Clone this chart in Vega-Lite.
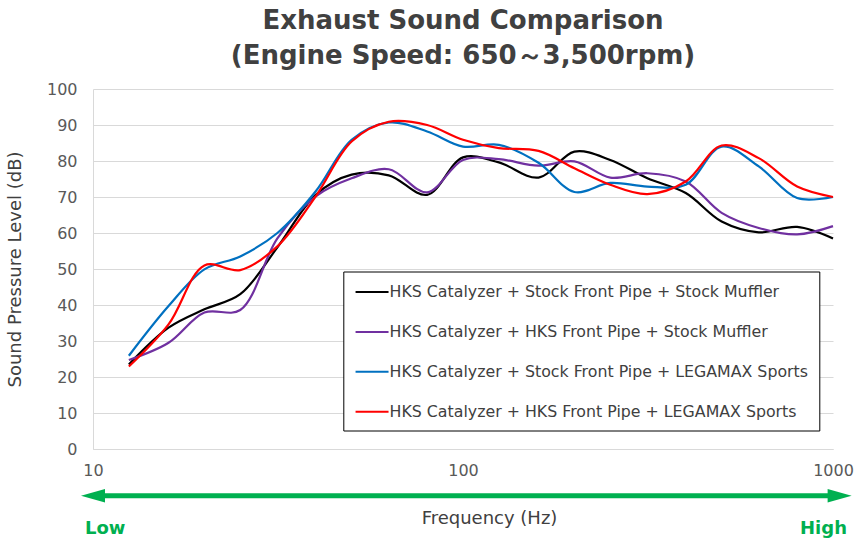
{
  "$schema": "https://vega.github.io/schema/vega-lite/v6.json",
  "width": 740,
  "height": 360,
  "autosize": {"type": "none"},
  "padding": {"left": 93, "top": 89, "right": 27, "bottom": 103},
  "background": "white",
  "title": {
    "text": ["Exhaust Sound Comparison", "(Engine Speed: 650～3,500rpm)"],
    "anchor": "middle",
    "frame": "group",
    "font": "DejaVu Sans",
    "fontSize": 26,
    "fontWeight": "bold",
    "color": "#404040",
    "lineHeight": 35,
    "baseline": "bottom",
    "offset": 22,
    "dy": 36
  },
  "config": {
    "view": {"stroke": null},
    "font": "DejaVu Sans"
  },
  "datasets": {
    "spl": [
      {"f": 12.5, "series": "HKS Catalyzer + Stock Front Pipe + Stock Muffler", "db": 23.5},
      {"f": 16, "series": "HKS Catalyzer + Stock Front Pipe + Stock Muffler", "db": 33.7},
      {"f": 20, "series": "HKS Catalyzer + Stock Front Pipe + Stock Muffler", "db": 38.8},
      {"f": 25, "series": "HKS Catalyzer + Stock Front Pipe + Stock Muffler", "db": 43},
      {"f": 31.5, "series": "HKS Catalyzer + Stock Front Pipe + Stock Muffler", "db": 56},
      {"f": 40, "series": "HKS Catalyzer + Stock Front Pipe + Stock Muffler", "db": 70.6},
      {"f": 50, "series": "HKS Catalyzer + Stock Front Pipe + Stock Muffler", "db": 76.2},
      {"f": 63, "series": "HKS Catalyzer + Stock Front Pipe + Stock Muffler", "db": 76},
      {"f": 80, "series": "HKS Catalyzer + Stock Front Pipe + Stock Muffler", "db": 70.6},
      {"f": 100, "series": "HKS Catalyzer + Stock Front Pipe + Stock Muffler", "db": 81},
      {"f": 125, "series": "HKS Catalyzer + Stock Front Pipe + Stock Muffler", "db": 79.6},
      {"f": 160, "series": "HKS Catalyzer + Stock Front Pipe + Stock Muffler", "db": 75.4},
      {"f": 200, "series": "HKS Catalyzer + Stock Front Pipe + Stock Muffler", "db": 82.6},
      {"f": 250, "series": "HKS Catalyzer + Stock Front Pipe + Stock Muffler", "db": 80.3},
      {"f": 315, "series": "HKS Catalyzer + Stock Front Pipe + Stock Muffler", "db": 75.2},
      {"f": 400, "series": "HKS Catalyzer + Stock Front Pipe + Stock Muffler", "db": 71.1},
      {"f": 500, "series": "HKS Catalyzer + Stock Front Pipe + Stock Muffler", "db": 63.2},
      {"f": 630, "series": "HKS Catalyzer + Stock Front Pipe + Stock Muffler", "db": 60.2},
      {"f": 800, "series": "HKS Catalyzer + Stock Front Pipe + Stock Muffler", "db": 61.7},
      {"f": 1000, "series": "HKS Catalyzer + Stock Front Pipe + Stock Muffler", "db": 58.5},
      {"f": 12.5, "series": "HKS Catalyzer + HKS Front Pipe + Stock Muffler", "db": 24.7},
      {"f": 16, "series": "HKS Catalyzer + HKS Front Pipe + Stock Muffler", "db": 29.5},
      {"f": 20, "series": "HKS Catalyzer + HKS Front Pipe + Stock Muffler", "db": 37.9},
      {"f": 25, "series": "HKS Catalyzer + HKS Front Pipe + Stock Muffler", "db": 38.6},
      {"f": 31.5, "series": "HKS Catalyzer + HKS Front Pipe + Stock Muffler", "db": 58.5},
      {"f": 40, "series": "HKS Catalyzer + HKS Front Pipe + Stock Muffler", "db": 70.2},
      {"f": 50, "series": "HKS Catalyzer + HKS Front Pipe + Stock Muffler", "db": 75.2},
      {"f": 63, "series": "HKS Catalyzer + HKS Front Pipe + Stock Muffler", "db": 77.7},
      {"f": 80, "series": "HKS Catalyzer + HKS Front Pipe + Stock Muffler", "db": 71.3},
      {"f": 100, "series": "HKS Catalyzer + HKS Front Pipe + Stock Muffler", "db": 80.3},
      {"f": 125, "series": "HKS Catalyzer + HKS Front Pipe + Stock Muffler", "db": 80.5},
      {"f": 160, "series": "HKS Catalyzer + HKS Front Pipe + Stock Muffler", "db": 78.7},
      {"f": 200, "series": "HKS Catalyzer + HKS Front Pipe + Stock Muffler", "db": 79.9},
      {"f": 250, "series": "HKS Catalyzer + HKS Front Pipe + Stock Muffler", "db": 75.4},
      {"f": 315, "series": "HKS Catalyzer + HKS Front Pipe + Stock Muffler", "db": 76.6},
      {"f": 400, "series": "HKS Catalyzer + HKS Front Pipe + Stock Muffler", "db": 74.3},
      {"f": 500, "series": "HKS Catalyzer + HKS Front Pipe + Stock Muffler", "db": 65.6},
      {"f": 630, "series": "HKS Catalyzer + HKS Front Pipe + Stock Muffler", "db": 61.4},
      {"f": 800, "series": "HKS Catalyzer + HKS Front Pipe + Stock Muffler", "db": 59.6},
      {"f": 1000, "series": "HKS Catalyzer + HKS Front Pipe + Stock Muffler", "db": 61.9},
      {"f": 12.5, "series": "HKS Catalyzer + Stock Front Pipe + LEGAMAX Sports", "db": 25.9},
      {"f": 16, "series": "HKS Catalyzer + Stock Front Pipe + LEGAMAX Sports", "db": 39.7},
      {"f": 20, "series": "HKS Catalyzer + Stock Front Pipe + LEGAMAX Sports", "db": 49.9},
      {"f": 25, "series": "HKS Catalyzer + Stock Front Pipe + LEGAMAX Sports", "db": 53.5},
      {"f": 31.5, "series": "HKS Catalyzer + Stock Front Pipe + LEGAMAX Sports", "db": 60},
      {"f": 40, "series": "HKS Catalyzer + Stock Front Pipe + LEGAMAX Sports", "db": 71.6},
      {"f": 50, "series": "HKS Catalyzer + Stock Front Pipe + LEGAMAX Sports", "db": 85.9},
      {"f": 63, "series": "HKS Catalyzer + Stock Front Pipe + LEGAMAX Sports", "db": 90.7},
      {"f": 80, "series": "HKS Catalyzer + Stock Front Pipe + LEGAMAX Sports", "db": 88.2},
      {"f": 100, "series": "HKS Catalyzer + Stock Front Pipe + LEGAMAX Sports", "db": 84},
      {"f": 125, "series": "HKS Catalyzer + Stock Front Pipe + LEGAMAX Sports", "db": 84.5},
      {"f": 160, "series": "HKS Catalyzer + Stock Front Pipe + LEGAMAX Sports", "db": 79.5},
      {"f": 200, "series": "HKS Catalyzer + Stock Front Pipe + LEGAMAX Sports", "db": 71.4},
      {"f": 250, "series": "HKS Catalyzer + Stock Front Pipe + LEGAMAX Sports", "db": 73.9},
      {"f": 315, "series": "HKS Catalyzer + Stock Front Pipe + LEGAMAX Sports", "db": 72.9},
      {"f": 400, "series": "HKS Catalyzer + Stock Front Pipe + LEGAMAX Sports", "db": 73.4},
      {"f": 500, "series": "HKS Catalyzer + Stock Front Pipe + LEGAMAX Sports", "db": 84},
      {"f": 630, "series": "HKS Catalyzer + Stock Front Pipe + LEGAMAX Sports", "db": 78.5},
      {"f": 800, "series": "HKS Catalyzer + Stock Front Pipe + LEGAMAX Sports", "db": 69.7},
      {"f": 1000, "series": "HKS Catalyzer + Stock Front Pipe + LEGAMAX Sports", "db": 70},
      {"f": 12.5, "series": "HKS Catalyzer + HKS Front Pipe + LEGAMAX Sports", "db": 22.9},
      {"f": 16, "series": "HKS Catalyzer + HKS Front Pipe + LEGAMAX Sports", "db": 34.6},
      {"f": 20, "series": "HKS Catalyzer + HKS Front Pipe + LEGAMAX Sports", "db": 51},
      {"f": 25, "series": "HKS Catalyzer + HKS Front Pipe + LEGAMAX Sports", "db": 49.7},
      {"f": 31.5, "series": "HKS Catalyzer + HKS Front Pipe + LEGAMAX Sports", "db": 56.3},
      {"f": 40, "series": "HKS Catalyzer + HKS Front Pipe + LEGAMAX Sports", "db": 70.2},
      {"f": 50, "series": "HKS Catalyzer + HKS Front Pipe + LEGAMAX Sports", "db": 85.4},
      {"f": 63, "series": "HKS Catalyzer + HKS Front Pipe + LEGAMAX Sports", "db": 90.9},
      {"f": 80, "series": "HKS Catalyzer + HKS Front Pipe + LEGAMAX Sports", "db": 90},
      {"f": 100, "series": "HKS Catalyzer + HKS Front Pipe + LEGAMAX Sports", "db": 85.9},
      {"f": 125, "series": "HKS Catalyzer + HKS Front Pipe + LEGAMAX Sports", "db": 83.6},
      {"f": 160, "series": "HKS Catalyzer + HKS Front Pipe + LEGAMAX Sports", "db": 82.8},
      {"f": 200, "series": "HKS Catalyzer + HKS Front Pipe + LEGAMAX Sports", "db": 78},
      {"f": 250, "series": "HKS Catalyzer + HKS Front Pipe + LEGAMAX Sports", "db": 73.4},
      {"f": 315, "series": "HKS Catalyzer + HKS Front Pipe + LEGAMAX Sports", "db": 70.8},
      {"f": 400, "series": "HKS Catalyzer + HKS Front Pipe + LEGAMAX Sports", "db": 74.3},
      {"f": 500, "series": "HKS Catalyzer + HKS Front Pipe + LEGAMAX Sports", "db": 84.3},
      {"f": 630, "series": "HKS Catalyzer + HKS Front Pipe + LEGAMAX Sports", "db": 80.8},
      {"f": 800, "series": "HKS Catalyzer + HKS Front Pipe + LEGAMAX Sports", "db": 72.9},
      {"f": 1000, "series": "HKS Catalyzer + HKS Front Pipe + LEGAMAX Sports", "db": 70}
    ],
    "one": [{"note": "annotation"}]
  },
  "encoding": {
    "x": {
      "type": "quantitative",
      "scale": {"type": "log", "domain": [10, 1000], "nice": false},
      "axis": {
        "values": [10, 100, 1000],
        "format": "d",
        "grid": false,
        "ticks": false,
        "tickSize": 0,
        "domainColor": "#d9d9d9",
        "labelFont": "DejaVu Sans",
        "labelFontSize": 16,
        "labelColor": "#595959",
        "labelPadding": 13,
        "labelFlush": false,
        "title": "Frequency (Hz)",
        "titleFont": "DejaVu Sans",
        "titleFontSize": 18,
        "titleFontWeight": "normal",
        "titleColor": "#404040",
        "titleX": 396,
        "titleY": 69,
        "titleBaseline": "middle",
        "titleAlign": "center"
      }
    },
    "y": {
      "type": "quantitative",
      "scale": {"domain": [0, 100], "nice": false},
      "axis": {
        "values": [0, 10, 20, 30, 40, 50, 60, 70, 80, 90, 100],
        "grid": true,
        "gridColor": "#d9d9d9",
        "gridWidth": 1,
        "ticks": false,
        "tickSize": 0,
        "domainColor": "#d9d9d9",
        "labelFont": "DejaVu Sans",
        "labelFontSize": 16,
        "labelColor": "#595959",
        "labelPadding": 16,
        "title": "Sound Pressure Level (dB)",
        "titleFont": "DejaVu Sans",
        "titleFontSize": 18,
        "titleFontWeight": "normal",
        "titleColor": "#404040",
        "titleAngle": -90,
        "titleX": -78,
        "titleY": 180,
        "titleBaseline": "middle",
        "titleAlign": "center"
      }
    }
  },
  "layer": [
    {
      "data": {"name": "spl"},
      "mark": {"type": "line", "interpolate": "catmull-rom", "strokeWidth": 2.2},
      "encoding": {
        "x": {"field": "f"},
        "y": {"field": "db"},
        "color": {
          "field": "series",
          "type": "nominal",
          "scale": {
            "domain": [
              "HKS Catalyzer + Stock Front Pipe + Stock Muffler",
              "HKS Catalyzer + HKS Front Pipe + Stock Muffler",
              "HKS Catalyzer + Stock Front Pipe + LEGAMAX Sports",
              "HKS Catalyzer + HKS Front Pipe + LEGAMAX Sports"
            ],
            "range": ["#000000", "#7030a0", "#0070c0", "#ff0000"]
          },
          "legend": {
            "title": null,
            "orient": "none",
            "legendX": 250.3,
            "legendY": 182.5,
            "direction": "vertical",
            "fillColor": "white",
            "strokeColor": "#000000",
            "padding": 11,
            "symbolType": "M-2,0L2,0",
            "symbolSize": 272,
            "symbolStrokeWidth": 2,
            "symbolFillColor": "transparent",
            "symbolOffset": 8.25,
            "labelOffset": 8,
            "rowPadding": 21.9,
            "labelFont": "DejaVu Sans",
            "labelFontSize": 15.8,
            "labelColor": "#404040",
            "labelLimit": 600
          }
        },
        "order": {"field": "f", "type": "quantitative"}
      }
    },
    {
      "data": {"name": "one"},
      "mark": {"type": "rule", "color": "#00b050", "strokeWidth": 5},
      "encoding": {
        "x": {"datum": 10},
        "x2": {"datum": 1042},
        "y": {"datum": -13}
      }
    },
    {
      "data": {"name": "one"},
      "mark": {"type": "point", "shape": "M-1,0L1,-0.56L1,0.56Z", "size": 576, "filled": true, "opacity": 1, "color": "#00b050", "strokeWidth": 0},
      "encoding": {
        "x": {"datum": 10},
        "y": {"datum": -13}
      }
    },
    {
      "data": {"name": "one"},
      "mark": {"type": "point", "shape": "M1,0L-1,-0.56L-1,0.56Z", "size": 576, "filled": true, "opacity": 1, "color": "#00b050", "strokeWidth": 0},
      "encoding": {
        "x": {"datum": 1042},
        "y": {"datum": -13}
      }
    },
    {
      "data": {"name": "one"},
      "mark": {"type": "text", "text": "Low", "align": "left", "baseline": "middle", "font": "DejaVu Sans", "fontSize": 18, "fontWeight": "bold", "color": "#00b050"},
      "encoding": {
        "x": {"datum": 9.51},
        "y": {"datum": -22.1}
      }
    },
    {
      "data": {"name": "one"},
      "mark": {"type": "text", "text": "High", "align": "right", "baseline": "middle", "font": "DejaVu Sans", "fontSize": 18, "fontWeight": "bold", "color": "#00b050"},
      "encoding": {
        "x": {"datum": 1091},
        "y": {"datum": -22.1}
      }
    }
  ]
}
